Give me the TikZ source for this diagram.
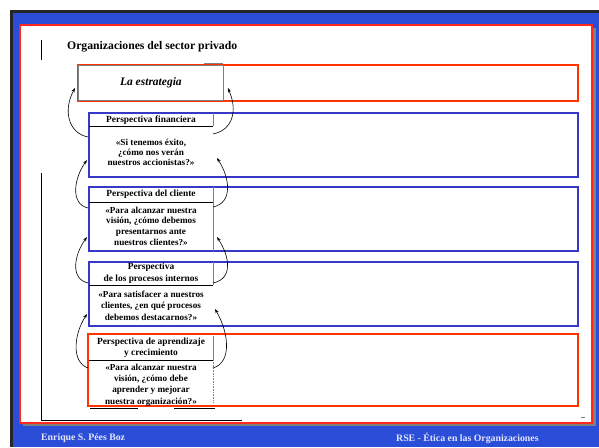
\documentclass[tikz,border=0pt]{standalone}
\usepackage{fontspec}
\setmainfont{Liberation Serif}
\usetikzlibrary{arrows.meta,calc}
\definecolor{slideblue}{RGB}{42,78,215}
\definecolor{framered}{RGB}{255,40,30}
\definecolor{boxred}{RGB}{255,51,0}
\definecolor{boxblue}{RGB}{55,55,200}
\tikzset{
  colbox/.style={draw, line width=1.4pt, anchor=north west, inner sep=0pt, outer sep=0pt},
  panel/.style={anchor=north west, inner sep=0pt, outer sep=0pt, minimum width=124pt},
  headtxt/.style={font=\bfseries\fontsize{9.4}{10.5}\selectfont, align=center, inner sep=0pt},
  bodytxt/.style={font=\bfseries\fontsize{9.2}{11}\selectfont, align=center, inner sep=0pt},
  rule/.style={line width=0.6pt},
  greyrule/.style={line width=0.6pt, gray},
  loop/.style={line width=0.6pt, -{Stealth[length=4.5pt,width=3.2pt]}},
  foot/.style={font=\bfseries\fontsize{9.8}{11}\selectfont, text=white!90!blue, anchor=west, inner sep=0pt}
}
\begin{document}
\begin{tikzpicture}[x=1pt,y=-1pt]
\useasboundingbox (0,0) rectangle (599,447);
\fill[white] (0,0) rectangle (599,447);
% slide background
\fill[black!85] (10,10) rectangle (599,447);
\fill[slideblue] (13,13) rectangle (599,447);
\fill[gray] (23,28) rectangle (596,426);
\draw[framered, line width=1.5pt, fill=white] (20,25) rectangle (592,423);

% title and frame lines
\node[anchor=west, inner sep=0pt, font=\bfseries\fontsize{11.7}{13}\selectfont] (title) at (67,47) {Organizaciones del sector privado};
\draw[rule] (41,40) -- (41,60);
\draw[rule] (41,173) -- (41,420) -- (242,420);

% coloured boxes
\node[colbox, draw=boxred, minimum width=500pt, minimum height=36pt] (b1) at (78,65) {};
\node[colbox, draw=boxblue, minimum width=489pt, minimum height=64pt] (b2) at (89,113) {};
\node[colbox, draw=boxblue, minimum width=489pt, minimum height=64pt] (b3) at (89,187) {};
\node[colbox, draw=boxblue, minimum width=489pt, minimum height=64pt] (b4) at (89,262) {};
\node[colbox, draw=boxred, minimum width=490pt, minimum height=72pt] (b5) at (88,334) {};

% panels
\node[anchor=north west, draw=gray, line width=0.8pt, minimum width=145pt, minimum height=35pt, inner sep=0pt,
      font=\bfseries\itshape\fontsize{11.5}{13}\selectfont] (p1) at (78,65) {La estrategia};
\draw[greyrule, line width=1pt] (204,63.5) -- (223,63.5);

\node[panel, minimum height=64pt] (p2) at (89,113) {};
\node[panel, minimum height=64pt] (p3) at (89,187) {};
\node[panel, minimum height=64pt] (p4) at (89,262) {};
\node[panel, minimum height=72pt] (p5) at (89,334) {};

% panel 2
\node[headtxt] (h2) at (151,120.5) {Perspectiva financiera};
\draw[rule] (p2.north west |- 0,126) -- (213,126);
\draw[greyrule] (213,113) -- (213,126);
\node[bodytxt, font=\bfseries\fontsize{9.2}{10}\selectfont] (t2) at (151,152.5) {«Si tenemos éxito,\\¿cómo nos verán\\nuestros accionistas?»};

% panel 3
\node[headtxt] (h3) at (151,194) {Perspectiva del cliente};
\draw[rule] (p3.north west |- 0,202) -- (213,202);
\draw[greyrule] (213,187) -- (213,251);
\node[bodytxt, font=\bfseries\fontsize{9.2}{10.7}\selectfont] (t3) at (151,226) {«Para alcanzar nuestra\\visión, ¿cómo debemos\\presentarnos ante\\nuestros clientes?»};

% panel 4
\node[headtxt, font=\bfseries\fontsize{9.4}{12}\selectfont] (h4) at (151,273) {Perspectiva\\de los procesos internos};
\draw[rule] (p4.north west |- 0,285) -- (213,285);
\draw[greyrule] (213,262) -- (213,285);
\node[bodytxt, font=\bfseries\fontsize{9.2}{11.5}\selectfont] (t4) at (151,305.5) {«Para satisfacer a nuestros\\clientes, ¿en qué procesos\\debemos destacarnos?»};

% panel 5
\node[headtxt, font=\bfseries\fontsize{9.4}{11.5}\selectfont] (h5) at (151,347.5) {Perspectiva de aprendizaje\\y crecimiento};
\draw[rule] (p5.north west |- 0,360) -- (213,360);
\draw[greyrule] (213,336) -- (213,360);
\draw[greyrule, densely dotted] (213,360) -- (213,402);
\node[bodytxt, font=\bfseries\fontsize{9.2}{11.3}\selectfont] (t5) at (151,385) {«Para alcanzar nuestra\\visión, ¿cómo debe\\aprender y mejorar\\nuestra organización?»};

% scan remnants
\draw[rule] (90,408) -- (138,408);
\draw[rule] (174,408) -- (215,408);
\draw[gray, line width=1pt] (581,417) -- (585,417);

% loops left
\draw[loop] ($(p2.north west)+(-1,24)$) .. controls +(-20,-4) and +(-12,22) .. ($(p1.north west)+(-3,23)$);
\draw[loop] ($(p3.north west)+(-1,21)$) .. controls +(-18,-4) and +(-13,18) .. ($(p2.south west)+(-2,-17)$);
\draw[loop] ($(p4.north west)+(-1,21)$) .. controls +(-18,-4) and +(-13,18) .. ($(p3.south west)+(-2,-14)$);
\draw[loop] ($(p5.north west)+(-1,34)$) .. controls +(-17,-6) and +(-13,20) .. ($(p4.south west)+(-2,-12)$);
% loops right
\draw[loop] ($(p2.north east)+(0,21)$) .. controls +(20,-4) and +(10,22) .. ($(p1.north east)+(4,23)$);
\draw[loop] ($(p3.north east)+(0,20)$) .. controls +(20,-4) and +(13,20) .. ($(p2.south east)+(4,-19)$);
\draw[loop] ($(p4.north east)+(0,21)$) .. controls +(20,-4) and +(13,20) .. ($(p3.south east)+(4,-14)$);
\draw[loop] ($(p5.north east)+(0,34)$) .. controls +(20,-6) and +(13,22) .. ($(p4.south east)+(2,-17)$);

% footer
\node[foot] (f1) at (41,438) {Enrique S. Pées Boz};
\node[foot] (f2) at (396,438) {RSE - Ética en las Organizaciones};
\end{tikzpicture}
\end{document}
